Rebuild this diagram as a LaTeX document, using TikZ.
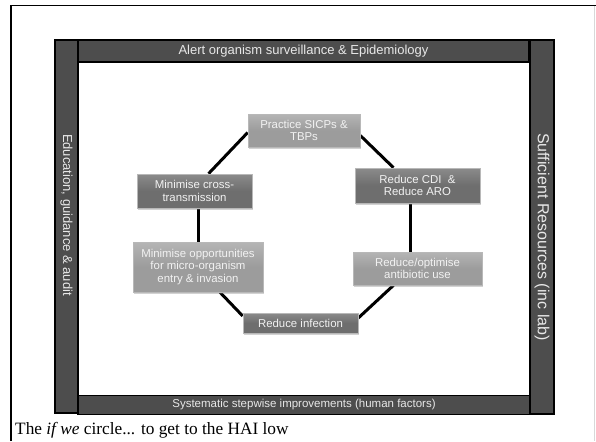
\documentclass[tikz,border=0pt]{standalone}
\usepackage{fontspec}
\setmainfont{Liberation Serif}
\newfontfamily\arialfont{Liberation Sans}
\usetikzlibrary{shadows}
\pgfdeclarelayer{page}
\pgfdeclarelayer{links}
\pgfsetlayers{page,links,main}
\definecolor{barfill}{HTML}{4D4D4D}
\definecolor{darkbox}{HTML}{6E6E6E}
\definecolor{lightbox}{HTML}{9C9C9C}
\definecolor{boxedge}{HTML}{B8B8B8}
\definecolor{bartext}{HTML}{E8E8E8}
\definecolor{pagerule}{HTML}{D8D8D8}
\tikzset{
  sidebar/.style={draw=black, line width=1.2pt, fill=barfill, inner sep=0pt},
  bartitle/.style={text=bartext, font=\arialfont, inner sep=0pt},
  stagebox/.style={draw=boxedge, line width=0.6pt, text=white!95!black, align=center,
    font=\arialfont\fontsize{11.4}{12.8}\selectfont, inner sep=0pt,
    drop shadow={shadow xshift=1pt, shadow yshift=-1.5pt, opacity=0.35}},
  darkstage/.style={stagebox, top color=darkbox!80!white, bottom color=darkbox, middle color=darkbox},
  lightstage/.style={stagebox, top color=lightbox!75!white, bottom color=lightbox, middle color=lightbox},
  link/.style={line width=3pt, black}
}
\begin{document}
\begin{tikzpicture}[x=1pt,y=-1pt]
  \useasboundingbox (0,0) rectangle (596,441);
  \begin{pgfonlayer}{page}
    \fill[white] (0,0) rectangle (596,441);
  \end{pgfonlayer}
  % page frame
  \draw[pagerule, line width=1pt] (594.5,5.5) -- (594.5,441);
  \draw[black, line width=1.2pt] (11,441) -- (11,5.5) -- (596,5.5);

  % surrounding bars
  \node[sidebar, minimum width=23pt, minimum height=373pt] (leftbar) at (66.5,226.5) {};
  \node[sidebar, minimum width=24pt, minimum height=374pt] (rightbar) at (542,227) {};
  \node[sidebar, minimum width=451pt, minimum height=22pt] (topbar) at (303.5,51) {};
  \node[sidebar, minimum width=452pt, minimum height=19pt] (bottombar) at (304,405) {};

  \node[bartitle, font=\arialfont\fontsize{13}{15}\selectfont] (toptitle) at (topbar.center) {Alert organism surveillance \& Epidemiology};
  \node[bartitle, font=\arialfont\fontsize{11.5}{13}\selectfont] (bottomtitle) at (bottombar.center) {Systematic stepwise improvements (human factors)};
  \node[bartitle, rotate=-90, font=\arialfont\fontsize{13}{15}\selectfont] (lefttitle) at (66.5,215) {Education, guidance \& audit};
  \node[bartitle, rotate=-90, font=\arialfont\fontsize{16}{18}\selectfont] (righttitle) at (542,237) {Sufficient Resources (inc lab)};

  % the cycle of stages
  \node[lightstage, minimum width=112pt, minimum height=33pt] (practice) at (304,130.5) {Practice SICPs \&\\TBPs};
  \node[darkstage, minimum width=115pt, minimum height=34pt] (cross) at (194.5,191) {Minimise cross-\\transmission};
  \node[darkstage, minimum width=125pt, minimum height=35pt] (cdi) at (417.5,185.5) {Reduce CDI \ \&\\Reduce ARO};
  \node[lightstage, minimum width=130pt, minimum height=50pt] (opp) at (198,267) {Minimise opportunities\\for micro-organism\\entry \& invasion};
  \node[lightstage, minimum width=129pt, minimum height=33pt] (anti) at (417.5,268.5) {Reduce/optimise\\antibiotic use};
  \node[darkstage, minimum width=115pt, minimum height=20pt] (infect) at (300.5,323) {Reduce infection};

  % connectors, beneath the boxes
  \begin{pgfonlayer}{links}
    \draw[link] ([yshift=-2pt]practice.west) -- ([xshift=14pt]cross.north);
    \draw[link] ([yshift=-5pt]practice.east) -- ([xshift=-24pt]cdi.north);
    \draw[link] (cross.south -| opp.north) -- (opp.north);
    \draw[link] ([xshift=-7pt]cdi.south) -- ([xshift=-7pt]anti.north);
    \draw[link] ([xshift=22pt]opp.south) -- ([yshift=7pt]infect.west);
    \draw[link] ([xshift=-24pt]anti.south) -- ([yshift=5pt]infect.east);
  \end{pgfonlayer}

  \node[anchor=base west, inner sep=0pt, font=\fontsize{17.3}{19}\selectfont] (caption) at (15,434) {The \textit{if we} circle... to get to the HAI low};
\end{tikzpicture}
\end{document}
